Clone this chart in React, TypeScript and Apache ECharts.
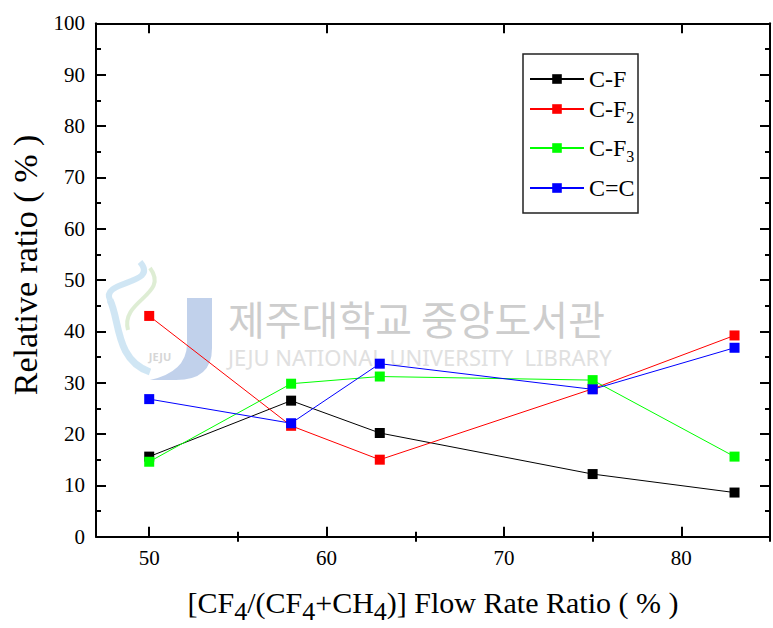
import React, { useEffect, useRef } from "react";
import * as echarts from "echarts";

const xValues = [50, 58, 63, 75, 83];
const seriesNames = ["C-F", "C-F2", "C-F3", "C=C"];
const legendLabels = ["C-F", "C-F{sub|2}", "C-F{sub|3}", "C=C"];
const seriesColors = ["#000000", "#ff0000", "#00ff00", "#0000ff"];
const cfValues = [15.6, 26.5, 20.2, 12.2, 8.6];
const cf2Values = [43.0, 21.6, 15.0, 28.8, 39.2];
const cf3Values = [14.6, 29.8, 31.2, 30.5, 15.6];
const ccValues = [26.8, 22.1, 33.7, 28.7, 36.8];
const xMajorTicks = [50, 60, 70, 80];
const xMinorTicks = [55, 65, 75, 85];
const legendTops = [67, 97, 136, 176];
const xTitle = "{n|[CF}{s|4}{n|/(CF}{s|4}{n|+CH}{s|4}{n|)] Flow Rate Ratio ( % )}";
const yTitle = "Relative ratio ( % )";

const SERIF = "Liberation Serif";

export default function App() {
  const ref = useRef<HTMLDivElement>(null);
  useEffect(() => {
    if (!ref.current) return;
    echarts.graphic.registerShape(
      "jbar",
      echarts.graphic.extendPath(
        "M187 298 L212 298 L212 348 Q212 380 176 380 L150 380 Q186 372 187 345 Z",
        {}
      )
    );
    const chart = echarts.init(ref.current, null, { renderer: "svg" });
    const allValues = [cfValues, cf2Values, cf3Values, ccValues];
    const black = "#000";
    const baseX = {
      type: "value",
      min: 47,
      max: 85,
      splitLine: { show: false },
    };
    const xAxes: any[] = [
      {
        ...baseX,
        position: "bottom",
        axisLine: { show: true, onZero: false, lineStyle: { color: black, width: 2 } },
        axisTick: { show: true, inside: true, length: 10, customValues: xMajorTicks, lineStyle: { color: black, width: 2 } },
        axisLabel: {
          customValues: xMajorTicks,
          fontSize: 21,
          color: black,
          fontFamily: SERIF,
          margin: 11,
        },
        name: xTitle,
        nameLocation: "middle",
        nameGap: 51,
        nameTextStyle: {
          fontSize: 30,
          fontFamily: SERIF,
          color: black,
          rich: {
            n: { fontSize: 30, fontFamily: SERIF, color: black, lineHeight: 30, verticalAlign: "top" },
            s: { fontSize: 26, fontFamily: SERIF, color: black, lineHeight: 26, verticalAlign: "top", padding: [11, 0, 0, 0] },
          },
        },
      },
      {
        ...baseX,
        position: "bottom",
        axisLine: { show: false },
        axisTick: { show: true, inside: true, length: 5, customValues: xMinorTicks, lineStyle: { color: black, width: 2 } },
        axisLabel: { show: false },
      },
      {
        ...baseX,
        position: "top",
        axisLine: { show: true, onZero: false, lineStyle: { color: black, width: 2 } },
        axisTick: { show: true, inside: true, length: 10, customValues: xMajorTicks, lineStyle: { color: black, width: 2 } },
        axisLabel: { show: false },
      },
      {
        ...baseX,
        position: "top",
        axisLine: { show: false },
        axisTick: { show: true, inside: true, length: 5, customValues: xMinorTicks, lineStyle: { color: black, width: 2 } },
        axisLabel: { show: false },
      },
    ];
    const baseY = {
      type: "value",
      min: 0,
      max: 100,
      interval: 10,
      splitLine: { show: false },
      axisLine: { show: true, onZero: false, lineStyle: { color: black, width: 2 } },
      axisTick: { show: true, inside: true, length: 10, lineStyle: { color: black, width: 2 } },
      minorTick: { show: true, splitNumber: 2, length: 5, lineStyle: { color: black, width: 2 } },
    };
    const yAxes: any[] = [
      {
        ...baseY,
        position: "left",
        axisLabel: { fontSize: 21, color: black, fontFamily: SERIF, margin: 11 },
        name: yTitle,
        nameLocation: "middle",
        nameGap: 54,
        nameTextStyle: {
          fontSize: 34,
          fontFamily: SERIF,
          color: black,
          padding: [0, 0, 0, 30],
        },
      },
      { ...baseY, position: "right", axisLabel: { show: false } },
    ];
    const legends = seriesNames.map((name, i) => ({
      data: [name],
      left: 529,
      top: legendTops[i],
      padding: 0,
      itemWidth: 54,
      itemHeight: 12,
      formatter: () => legendLabels[i],
      textStyle: {
        fontSize: 24,
        fontFamily: SERIF,
        color: black,
        rich: { sub: { fontSize: 16, fontFamily: SERIF, color: black, padding: [16, 0, 0, 0] } },
      },
    }));
    chart.setOption({
      animation: false,
      backgroundColor: "#ffffff",
      textStyle: { fontFamily: SERIF },
      grid: { left: 96, right: 3, top: 23.3, bottom: 91.3, containLabel: false, outerBoundsMode: "none" },
      xAxis: xAxes,
      yAxis: yAxes,
      legend: legends,
      graphic: [
        {
          type: "bezierCurve",
          z: 0,
          shape: { x1: 140, y1: 262, x2: 110, y2: 300, cpx1: 160, cpy1: 285, cpx2: 100, cpy2: 280 },
          style: { stroke: "rgba(150,200,230,0.45)", lineWidth: 6, fill: null },
        },
        {
          type: "bezierCurve",
          z: 0,
          shape: { x1: 110, y1: 300, x2: 150, y2: 372, cpx1: 120, cpy1: 320, cpx2: 115, cpy2: 360 },
          style: { stroke: "rgba(150,200,230,0.45)", lineWidth: 7, fill: null },
        },
        {
          type: "bezierCurve",
          z: 0,
          shape: { x1: 150, y1: 268, x2: 128, y2: 330, cpx1: 170, cpy1: 295, cpx2: 120, cpy2: 300 },
          style: { stroke: "rgba(190,220,170,0.5)", lineWidth: 4, fill: null },
        },
        {
          type: "jbar",
          z: 0,
          style: { fill: "rgba(160,185,225,0.65)" },
        },
        {
          type: "text",
          z: 0,
          x: 160,
          y: 351,
          style: { text: "JEJU", fill: "#d6d6d6", font: "bold 11px 'Noto Sans'", textAlign: "center" },
        },
        {
          type: "text",
          z: 0,
          x: 228,
          y: 318,
          style: {
            text: "제주대학교 중앙도서관",
            fill: "#cdcdcd",
            font: "40px 'Noto Sans CJK KR'",
            verticalAlign: "middle",
          },
        },
        {
          type: "text",
          z: 0,
          x: 228,
          y: 357,
          style: {
            text: "JEJU NATIONAL UNIVERSITY  LIBRARY",
            fill: "#e0e0e0",
            font: "22px 'Noto Sans'",
            verticalAlign: "middle",
          },
        },
        {
          type: "rect",
          z: 5,
          shape: { x: 523, y: 54, width: 115, height: 159 },
          style: { fill: null, stroke: "#222", lineWidth: 1.5 },
        },
      ],
      series: seriesNames.map((name, i) => ({
        name,
        type: "line",
        xAxisIndex: 0,
        yAxisIndex: 0,
        data: xValues.map((x, j) => [x, allValues[i][j]]),
        symbol: "rect",
        symbolSize: 10,
        itemStyle: { color: seriesColors[i] },
        lineStyle: { color: seriesColors[i], width: 1 },
        z: 2 + i,
      })),
    });
    return () => chart.dispose();
  }, []);
  return (
    <div
      ref={ref}
      style={{ position: "fixed", left: 0, top: 0, width: 773, height: 628, background: "#fff" }}
    />
  );
}
